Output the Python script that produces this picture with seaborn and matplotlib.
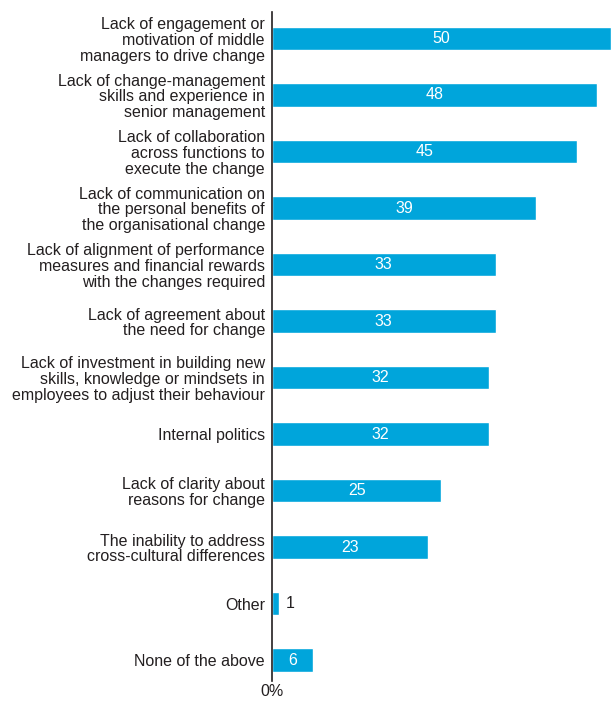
import matplotlib
matplotlib.use("Agg")
import matplotlib.pyplot as plt
import seaborn as sns
import pandas as pd

categories = [
    "Lack of engagement or\nmotivation of middle\nmanagers to drive change",
    "Lack of change-management\nskills and experience in\nsenior management",
    "Lack of collaboration\nacross functions to\nexecute the change",
    "Lack of communication on\nthe personal benefits of\nthe organisational change",
    "Lack of alignment of performance\nmeasures and financial rewards\nwith the changes required",
    "Lack of agreement about\nthe need for change",
    "Lack of investment in building new\nskills, knowledge or mindsets in\nemployees to adjust their behaviour",
    "Internal politics",
    "Lack of clarity about\nreasons for change",
    "The inability to address\ncross-cultural differences",
    "Other",
    "None of the above",
]
values = [50, 48, 45, 39, 33, 33, 32, 32, 25, 23, 1, 6]

df = pd.DataFrame({"reason": categories, "pct": values})

sns.set_theme(style="white")
plt.rcParams["font.family"] = ["Liberation Sans", "DejaVu Sans"]

BLUE = "#00A5DB"
TEXT = "#231F20"
FS = 11.5

fig = plt.figure(figsize=(6.11, 7.02), dpi=100)
ax = fig.add_axes([0.445, 0.030, 0.555, 0.953])

sns.barplot(data=df, x="pct", y="reason", color=BLUE, width=0.41,
            saturation=1, ax=ax, orient="h")

ax.set_xlim(0, 50)
ax.set_ylim(11.37, -0.47)
ax.set_xlabel("")
ax.set_ylabel("")
ax.set_xticks([])
for s in ["top", "right", "bottom"]:
    ax.spines[s].set_visible(False)
ax.spines["left"].set_color(TEXT)
ax.spines["left"].set_linewidth(1.2)
ax.tick_params(axis="y", length=0, pad=5, labelsize=FS, labelcolor=TEXT)
for lbl in ax.get_yticklabels():
    lbl.set_horizontalalignment("right")
    lbl.set_multialignment("right")
    lbl.set_linespacing(1.07)

for i, v in enumerate(values):
    if v >= 5:
        ax.text(v / 2, i, f"{v}", ha="center", va="center",
                color="white", fontsize=FS)
    else:
        ax.text(v + 1.0, i, f"{v}", ha="left", va="center",
                color=TEXT, fontsize=FS)

ax.text(0, -0.0045, "0%", transform=ax.get_xaxis_transform(),
        ha="center", va="top", color=TEXT, fontsize=FS)

fig.savefig("out.png", dpi=100)
